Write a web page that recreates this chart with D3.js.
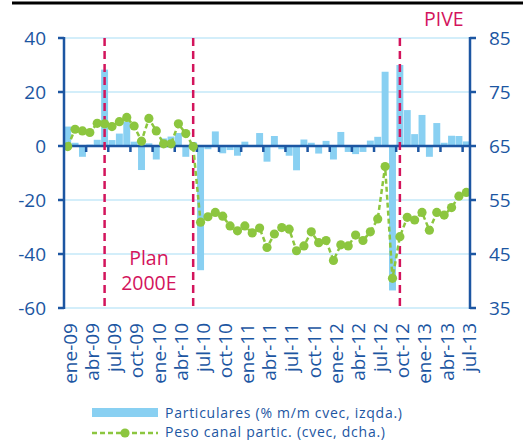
<!doctype html>
<html>
<head>
    <meta charset="utf-8">
    <style>
        body { margin: 0; background: #fff; }
        svg text { font-family: "Open Sans", sans-serif; }
        .grid line { stroke: #c4e8f8; stroke-width: 1.5; }
        .bar { fill: #89d0f2; }
        .axis-line { stroke: #1c56a2; stroke-width: 2.5; fill: none; }
        .tick-label { fill: #1c56a2; font-size: 19px; }
        .month-label { fill: #1c56a2; font-size: 19px; }
        .event { stroke: #d3145c; stroke-width: 2.5; stroke-dasharray: 8,5; }
        .event-label { fill: #d3145c; font-size: 19.5px; }
        .peso { fill: none; stroke: #8cc63f; stroke-width: 2.5; stroke-dasharray: 5,3; }
        .dot { fill: #8cc63f; }
        .legend-text { fill: #1c56a2; font-size: 14px; }
    </style>
</head>
<body>
    <svg id="chart" width="523" height="440"></svg>
    <script src="https://cdnjs.cloudflare.com/ajax/libs/d3/7.8.5/d3.min.js"></script>
    <script>
        var months = [
            'ene-09','feb-09','mar-09','abr-09','may-09','jun-09','jul-09','ago-09','sep-09','oct-09','nov-09','dic-09',
            'ene-10','feb-10','mar-10','abr-10','may-10','jun-10','jul-10','ago-10','sep-10','oct-10','nov-10','dic-10',
            'ene-11','feb-11','mar-11','abr-11','may-11','jun-11','jul-11','ago-11','sep-11','oct-11','nov-11','dic-11',
            'ene-12','feb-12','mar-12','abr-12','may-12','jun-12','jul-12','ago-12','sep-12','oct-12','nov-12','dic-12',
            'ene-13','feb-13','mar-13','abr-13','may-13','jun-13','jul-13'
        ];
        var monthTicks = ['ene-09','abr-09','jul-09','oct-09','ene-10','abr-10','jul-10','oct-10','ene-11','abr-11',
            'jul-11','oct-11','ene-12','abr-12','jul-12','oct-12','ene-13','abr-13','jul-13'];

        // Particulares (% m/m cvec, izqda.)
        var particulares = [
            7.2, 1.2, -4, 0.5, 2.3, 28.3, 2.2, 4.6, 9, 1.6, -8.9, 1,
            -5, 2.8, 3.5, 4.8, -4, 1.5, -46, -1.2, 5.4, -2.7, -1.5, -3.6,
            1.6, 0.2, 4.8, -5.8, 3.7, -1.2, -3.6, -9, 2.4, 1.2, -2.8, 1.9,
            -5, 5.2, -2.2, -3, -2.2, 2, 3.4, 27.5, -53.5, 30, 13.3, 4.4,
            11.5, -4, 8.5, 1.2, 3.8, 3.7, 1.7
        ];
        // Peso canal partic. (cvec, dcha.)
        var peso = [
            64.9, 68.1, 67.8, 67.5, 69.2, 69.1, 68.6, 69.5, 70.3, 68.7, 65.9, 70.1,
            67.8, 65.4, 65.4, 69.1, 67.3, 64.9, 50.9, 51.9, 52.7, 52.0, 50.2, 49.3,
            50.2, 48.9, 49.8, 46.2, 48.7, 49.9, 49.6, 45.6, 46.5, 49.1, 47.1, 47.5,
            43.8, 46.7, 46.5, 48.5, 47.5, 49.1, 51.5, 61.2, 40.5, 48.2, 51.8, 51.3,
            52.7, 49.4, 52.7, 52.2, 53.6, 55.7, 56.4
        ];
        var leftTicks = [40, 20, 0, -20, -40, -60];
        var rightTicks = [85, 75, 65, 55, 45, 35];
        var eventMonths = ['jun-09', 'jun-10', 'oct-12'];

        var svg = d3.select('#chart');
        var plotLeft = 64, plotRight = 470, plotTop = 38, plotBottom = 308;

        var x = d3.scaleBand().domain(months).range([plotLeft, plotRight]).paddingInner(0.06).paddingOuter(0.03);
        var y = d3.scaleLinear().domain([-60, 40]).range([plotBottom, plotTop]);
        var y2 = d3.scaleLinear().domain([35, 85]).range([plotBottom, plotTop]);
        var cx = function(m) { return x(m) + x.bandwidth() / 2; };

        // top rule
        svg.append('line')
            .attr('x1', 12).attr('x2', 523).attr('y1', 3).attr('y2', 3)
            .attr('stroke', '#000').attr('stroke-width', 3);

        // grid
        svg.append('g').attr('class', 'grid')
            .selectAll('line').data(leftTicks.filter(function(d) { return d !== 0; }))
            .enter().append('line')
            .attr('x1', plotLeft).attr('x2', plotRight)
            .attr('y1', function(d) { return y(d); })
            .attr('y2', function(d) { return y(d); });

        // bars
        svg.append('g').selectAll('rect').data(particulares)
            .enter().append('rect')
            .attr('class', 'bar')
            .attr('x', function(d, i) { return x(months[i]); })
            .attr('width', x.bandwidth())
            .attr('y', function(d) { return y(Math.max(0, d)); })
            .attr('height', function(d) { return Math.abs(y(d) - y(0)); });

        // zero axis with ticks every three months
        svg.append('line').attr('class', 'axis-line')
            .attr('x1', plotLeft).attr('x2', plotRight).attr('y1', y(0)).attr('y2', y(0));
        var half = (x.step() - x.bandwidth()) / 2;
        svg.append('g').selectAll('line').data(monthTicks.slice(1))
            .enter().append('line').attr('class', 'axis-line')
            .attr('x1', function(m) { return x(m) - half; })
            .attr('x2', function(m) { return x(m) - half; })
            .attr('y1', y(0)).attr('y2', y(0) + 6);

        // event lines
        svg.append('g').selectAll('line').data(eventMonths)
            .enter().append('line').attr('class', 'event')
            .attr('x1', cx).attr('x2', cx)
            .attr('y1', plotTop).attr('y2', plotBottom);

        svg.append('text').attr('class', 'event-label')
            .attr('x', (cx('jun-09') + cx('jun-10')) / 2).attr('y', 265)
            .attr('text-anchor', 'middle').text('Plan');
        svg.append('text').attr('class', 'event-label')
            .attr('x', (cx('jun-09') + cx('jun-10')) / 2).attr('y', 290)
            .attr('text-anchor', 'middle').text('2000E');
        svg.append('text').attr('class', 'event-label')
            .attr('x', cx('oct-12') + 44).attr('y', 26)
            .attr('text-anchor', 'middle').text('PIVE');

        // peso line
        var line = d3.line()
            .x(function(d, i) { return cx(months[i]); })
            .y(function(d) { return y2(d); });
        svg.append('path').attr('class', 'peso').attr('d', line(peso));
        svg.append('g').selectAll('circle').data(peso)
            .enter().append('circle').attr('class', 'dot')
            .attr('cx', function(d, i) { return cx(months[i]); })
            .attr('cy', function(d) { return y2(d); })
            .attr('r', 4.6);

        // left axis
        svg.append('line').attr('class', 'axis-line')
            .attr('x1', plotLeft).attr('x2', plotLeft).attr('y1', plotTop - 1).attr('y2', plotBottom + 1);
        var gl = svg.append('g').selectAll('g').data(leftTicks).enter().append('g');
        gl.append('line').attr('class', 'axis-line')
            .attr('x1', plotLeft - 6).attr('x2', plotLeft)
            .attr('y1', function(d) { return y(d); }).attr('y2', function(d) { return y(d); });
        gl.append('text').attr('class', 'tick-label')
            .attr('x', 46).attr('y', function(d) { return y(d); })
            .attr('dy', '0.36em').attr('text-anchor', 'end')
            .text(function(d) { return d; });

        // right axis
        svg.append('line').attr('class', 'axis-line')
            .attr('x1', plotRight).attr('x2', plotRight).attr('y1', plotTop - 1).attr('y2', plotBottom + 1);
        var gr = svg.append('g').selectAll('g').data(rightTicks).enter().append('g');
        gr.append('line').attr('class', 'axis-line')
            .attr('x1', plotRight).attr('x2', plotRight + 6)
            .attr('y1', function(d) { return y2(d); }).attr('y2', function(d) { return y2(d); });
        gr.append('text').attr('class', 'tick-label')
            .attr('x', 489).attr('y', function(d) { return y2(d); })
            .attr('dy', '0.36em')
            .text(function(d) { return d; });

        // month labels
        svg.append('g').selectAll('text').data(monthTicks)
            .enter().append('text').attr('class', 'month-label')
            .attr('transform', function(m) { return 'translate(' + (cx(m) + 2.5) + ',323) rotate(-90)'; })
            .attr('dy', '0.36em').attr('text-anchor', 'end')
            .text(function(m) { return m; });

        // legend
        svg.append('rect').attr('class', 'bar')
            .attr('x', 92).attr('y', 408).attr('width', 66).attr('height', 9);
        svg.append('text').attr('class', 'legend-text')
            .attr('x', 165).attr('y', 417.5)
            .attr('textLength', 237).attr('lengthAdjust', 'spacing')
            .text('Particulares (% m/m cvec, izqda.)');
        svg.append('line').attr('class', 'peso')
            .attr('x1', 92).attr('x2', 158).attr('y1', 433).attr('y2', 433);
        svg.append('circle').attr('class', 'dot')
            .attr('cx', 125).attr('cy', 433).attr('r', 4.6);
        svg.append('text').attr('class', 'legend-text')
            .attr('x', 165).attr('y', 437)
            .attr('textLength', 220).attr('lengthAdjust', 'spacing')
            .text('Peso canal partic. (cvec, dcha.)');
    </script>
</body>
</html>
